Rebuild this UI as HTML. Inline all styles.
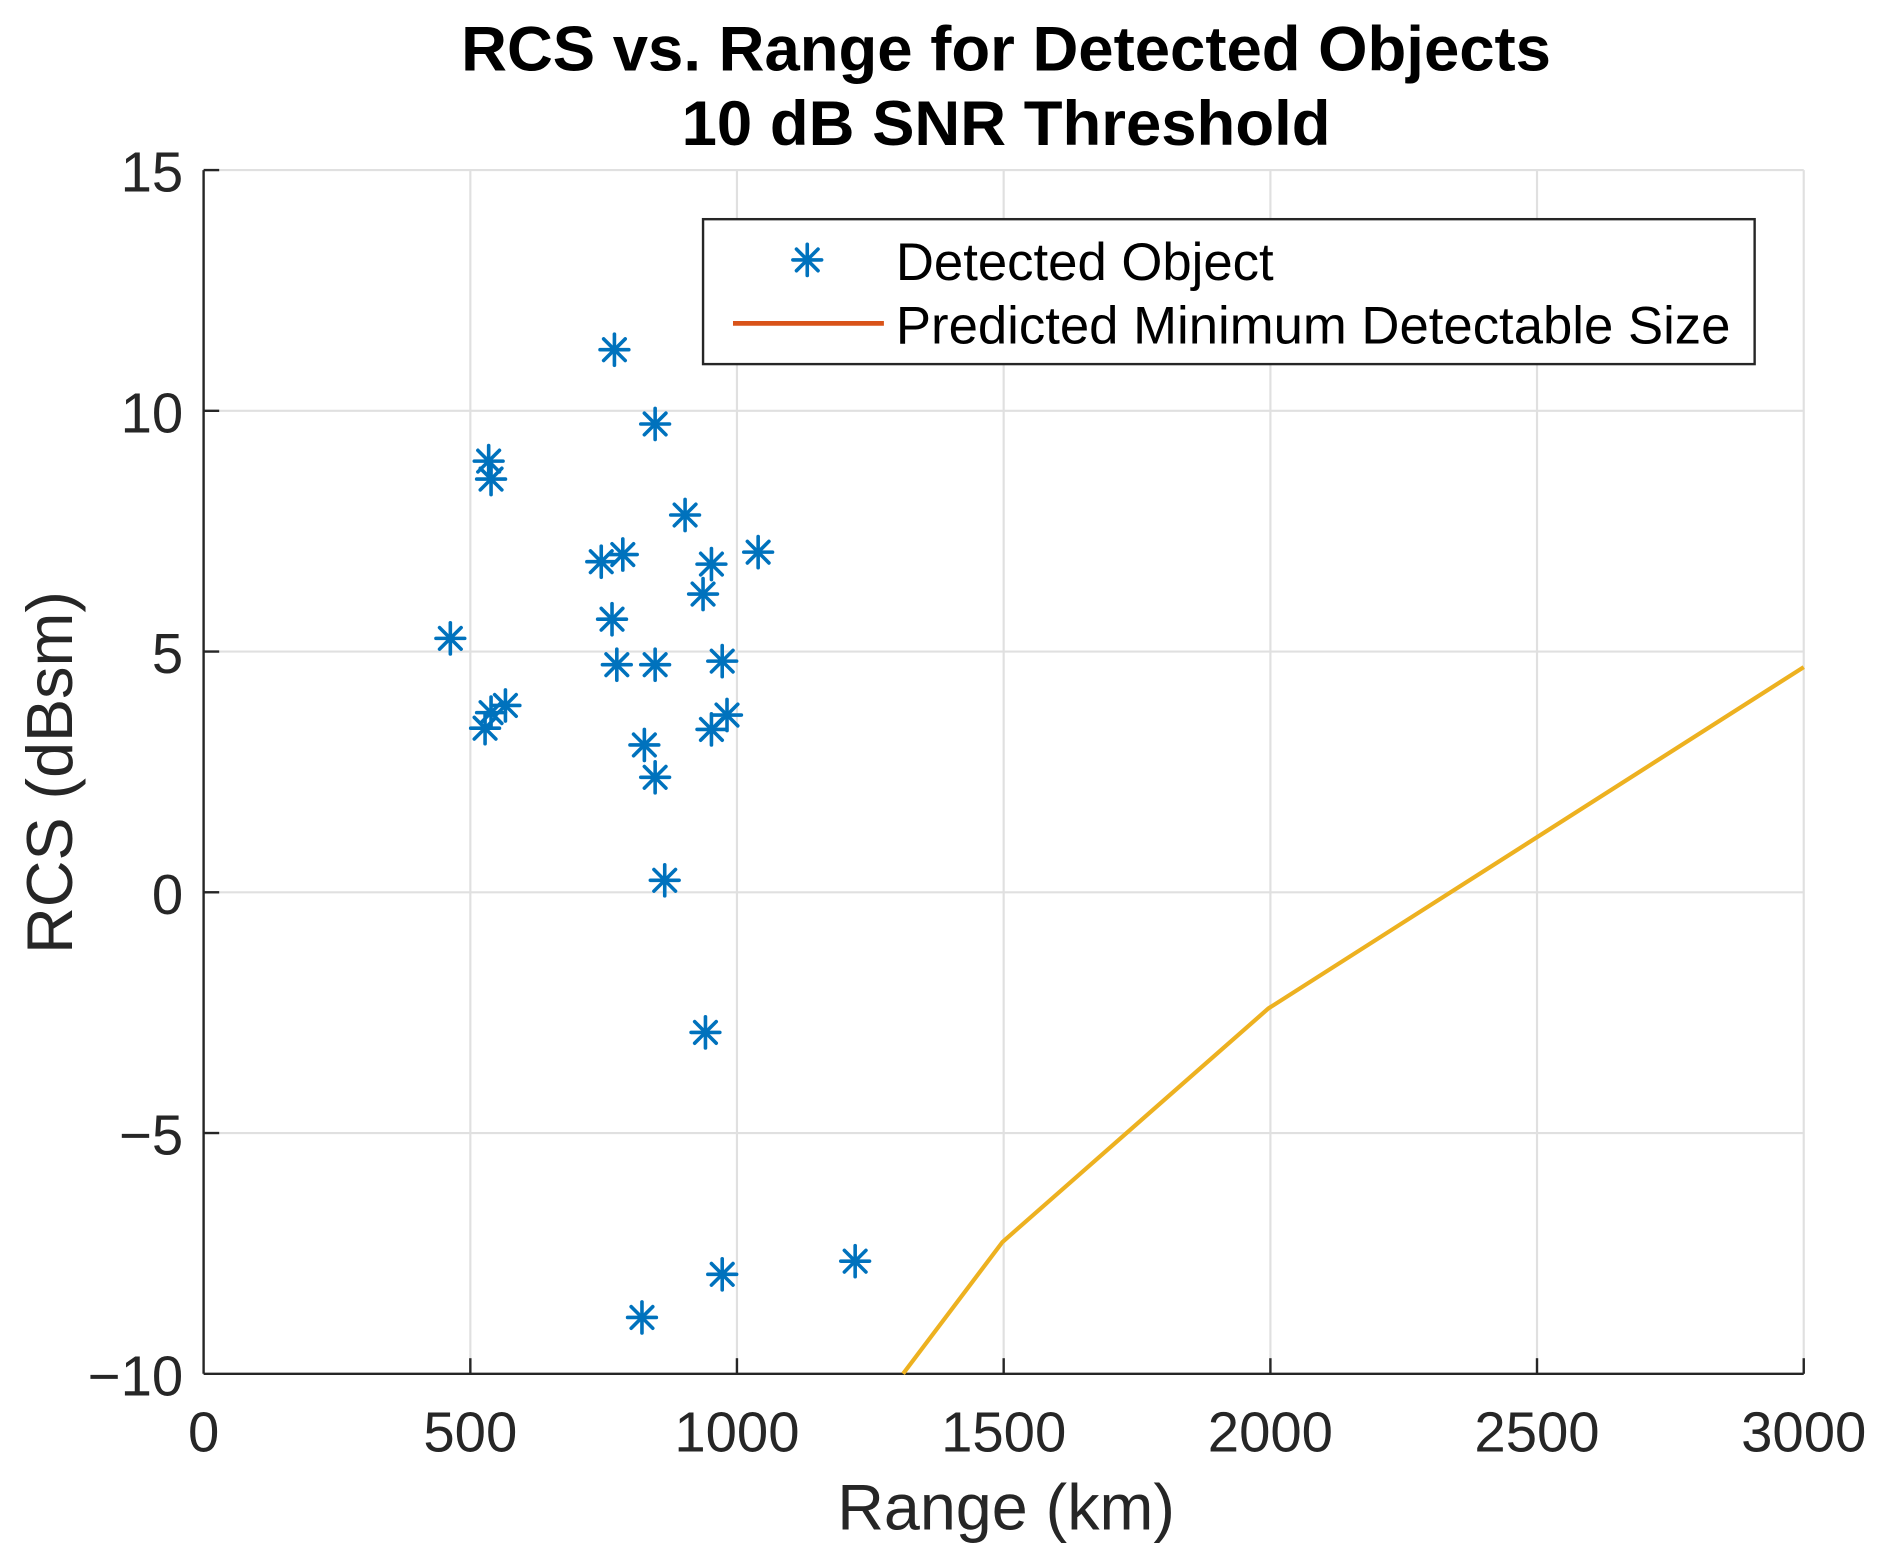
<!DOCTYPE html>
<html><head><meta charset="utf-8"><style>html,body{margin:0;padding:0;background:#fff}svg{display:block}</style></head>
<body>
<svg width="1878" height="1563" viewBox="0 0 1568 1305" preserveAspectRatio="none" xmlns="http://www.w3.org/2000/svg" font-family="Liberation Sans, sans-serif">
<defs>
<g id="a" stroke="#0072BD" stroke-width="3" stroke-linecap="round">
<line x1="-12" y1="0" x2="12" y2="0"/><line x1="0" y1="-13" x2="0" y2="13"/>
<line x1="-9" y1="-9" x2="9" y2="9"/><line x1="-9" y1="9" x2="9" y2="-9"/>
</g>
</defs>
<rect width="1568" height="1305" fill="#fff"/>
<g stroke="#e0e0e0" stroke-width="1.8">
<line x1="392.7" y1="142" x2="392.7" y2="1147"/><line x1="615.3" y1="142" x2="615.3" y2="1147"/>
<line x1="838" y1="142" x2="838" y2="1147"/><line x1="1060.7" y1="142" x2="1060.7" y2="1147"/>
<line x1="1283.3" y1="142" x2="1283.3" y2="1147"/>
<line x1="170" y1="142" x2="1506" y2="142"/><line x1="170" y1="343" x2="1506" y2="343"/>
<line x1="170" y1="544" x2="1506" y2="544"/><line x1="170" y1="745" x2="1506" y2="745"/>
<line x1="170" y1="946" x2="1506" y2="946"/>
<line x1="1506" y1="142" x2="1506" y2="1147"/>
</g>
<g stroke="#262626" stroke-width="2">
<line x1="170" y1="142" x2="170" y2="1147"/><line x1="170" y1="1147" x2="1506" y2="1147"/>
<line x1="392.7" y1="1147" x2="392.7" y2="1134"/><line x1="615.3" y1="1147" x2="615.3" y2="1134"/>
<line x1="838" y1="1147" x2="838" y2="1134"/><line x1="1060.7" y1="1147" x2="1060.7" y2="1134"/>
<line x1="1283.3" y1="1147" x2="1283.3" y2="1134"/><line x1="1506" y1="1147" x2="1506" y2="1134"/>
<line x1="170" y1="142" x2="183" y2="142"/><line x1="170" y1="343" x2="183" y2="343"/>
<line x1="170" y1="544" x2="183" y2="544"/><line x1="170" y1="745" x2="183" y2="745"/>
<line x1="170" y1="946" x2="183" y2="946"/>
</g>
<polyline points="754,1147 837,1037 1059,842 1506,557" fill="none" stroke="#EDB120" stroke-width="3.5"/>
<g>
<use href="#a" x="513" y="292"/><use href="#a" x="547" y="354"/><use href="#a" x="408" y="385"/><use href="#a" x="410" y="400"/>
<use href="#a" x="572" y="430"/><use href="#a" x="633" y="461"/><use href="#a" x="520" y="463"/><use href="#a" x="502" y="469"/>
<use href="#a" x="594" y="471"/><use href="#a" x="587" y="496"/><use href="#a" x="511" y="517"/><use href="#a" x="376" y="533"/>
<use href="#a" x="515" y="555"/><use href="#a" x="547" y="555"/><use href="#a" x="603" y="552"/><use href="#a" x="422" y="589"/>
<use href="#a" x="410" y="595"/><use href="#a" x="405" y="608"/><use href="#a" x="607" y="597"/><use href="#a" x="594" y="609"/>
<use href="#a" x="538" y="622"/><use href="#a" x="547" y="649"/><use href="#a" x="555" y="735"/><use href="#a" x="589" y="862"/>
<use href="#a" x="714" y="1053"/><use href="#a" x="603" y="1064"/><use href="#a" x="536" y="1100"/>
</g>
<g fill="#262626" font-size="47" text-anchor="end">
<text x="153" y="160">15</text><text x="153" y="361">10</text><text x="153" y="562">5</text>
<text x="153" y="763">0</text><text x="153" y="964">−5</text><text x="153" y="1165">−10</text>
</g>
<g fill="#262626" font-size="47" text-anchor="middle">
<text x="170" y="1212">0</text><text x="392.7" y="1212">500</text><text x="615.3" y="1212">1000</text>
<text x="838" y="1212">1500</text><text x="1060.7" y="1212">2000</text><text x="1283.3" y="1212">2500</text>
<text x="1506" y="1212">3000</text>
</g>
<text x="840" y="1277" text-anchor="middle" font-size="54" fill="#262626">Range (km)</text>
<text transform="translate(60,645) rotate(-90)" text-anchor="middle" font-size="54" fill="#262626">RCS (dBsm)</text>
<g font-weight="bold" font-size="53" text-anchor="middle" fill="#000">
<text x="840" y="59">RCS vs. Range for Detected Objects</text>
<text x="840" y="121">10 dB SNR Threshold</text>
</g>
<rect x="587" y="183" width="878" height="121" fill="#fff" stroke="#262626" stroke-width="2"/>
<use href="#a" x="674" y="217"/>
<line x1="612" y1="270" x2="738" y2="270" stroke="#D95319" stroke-width="4"/>
<g font-size="44" fill="#000">
<text x="748" y="234">Detected Object</text>
<text x="748" y="287">Predicted Minimum Detectable Size</text>
</g>
</svg>
</body></html>
